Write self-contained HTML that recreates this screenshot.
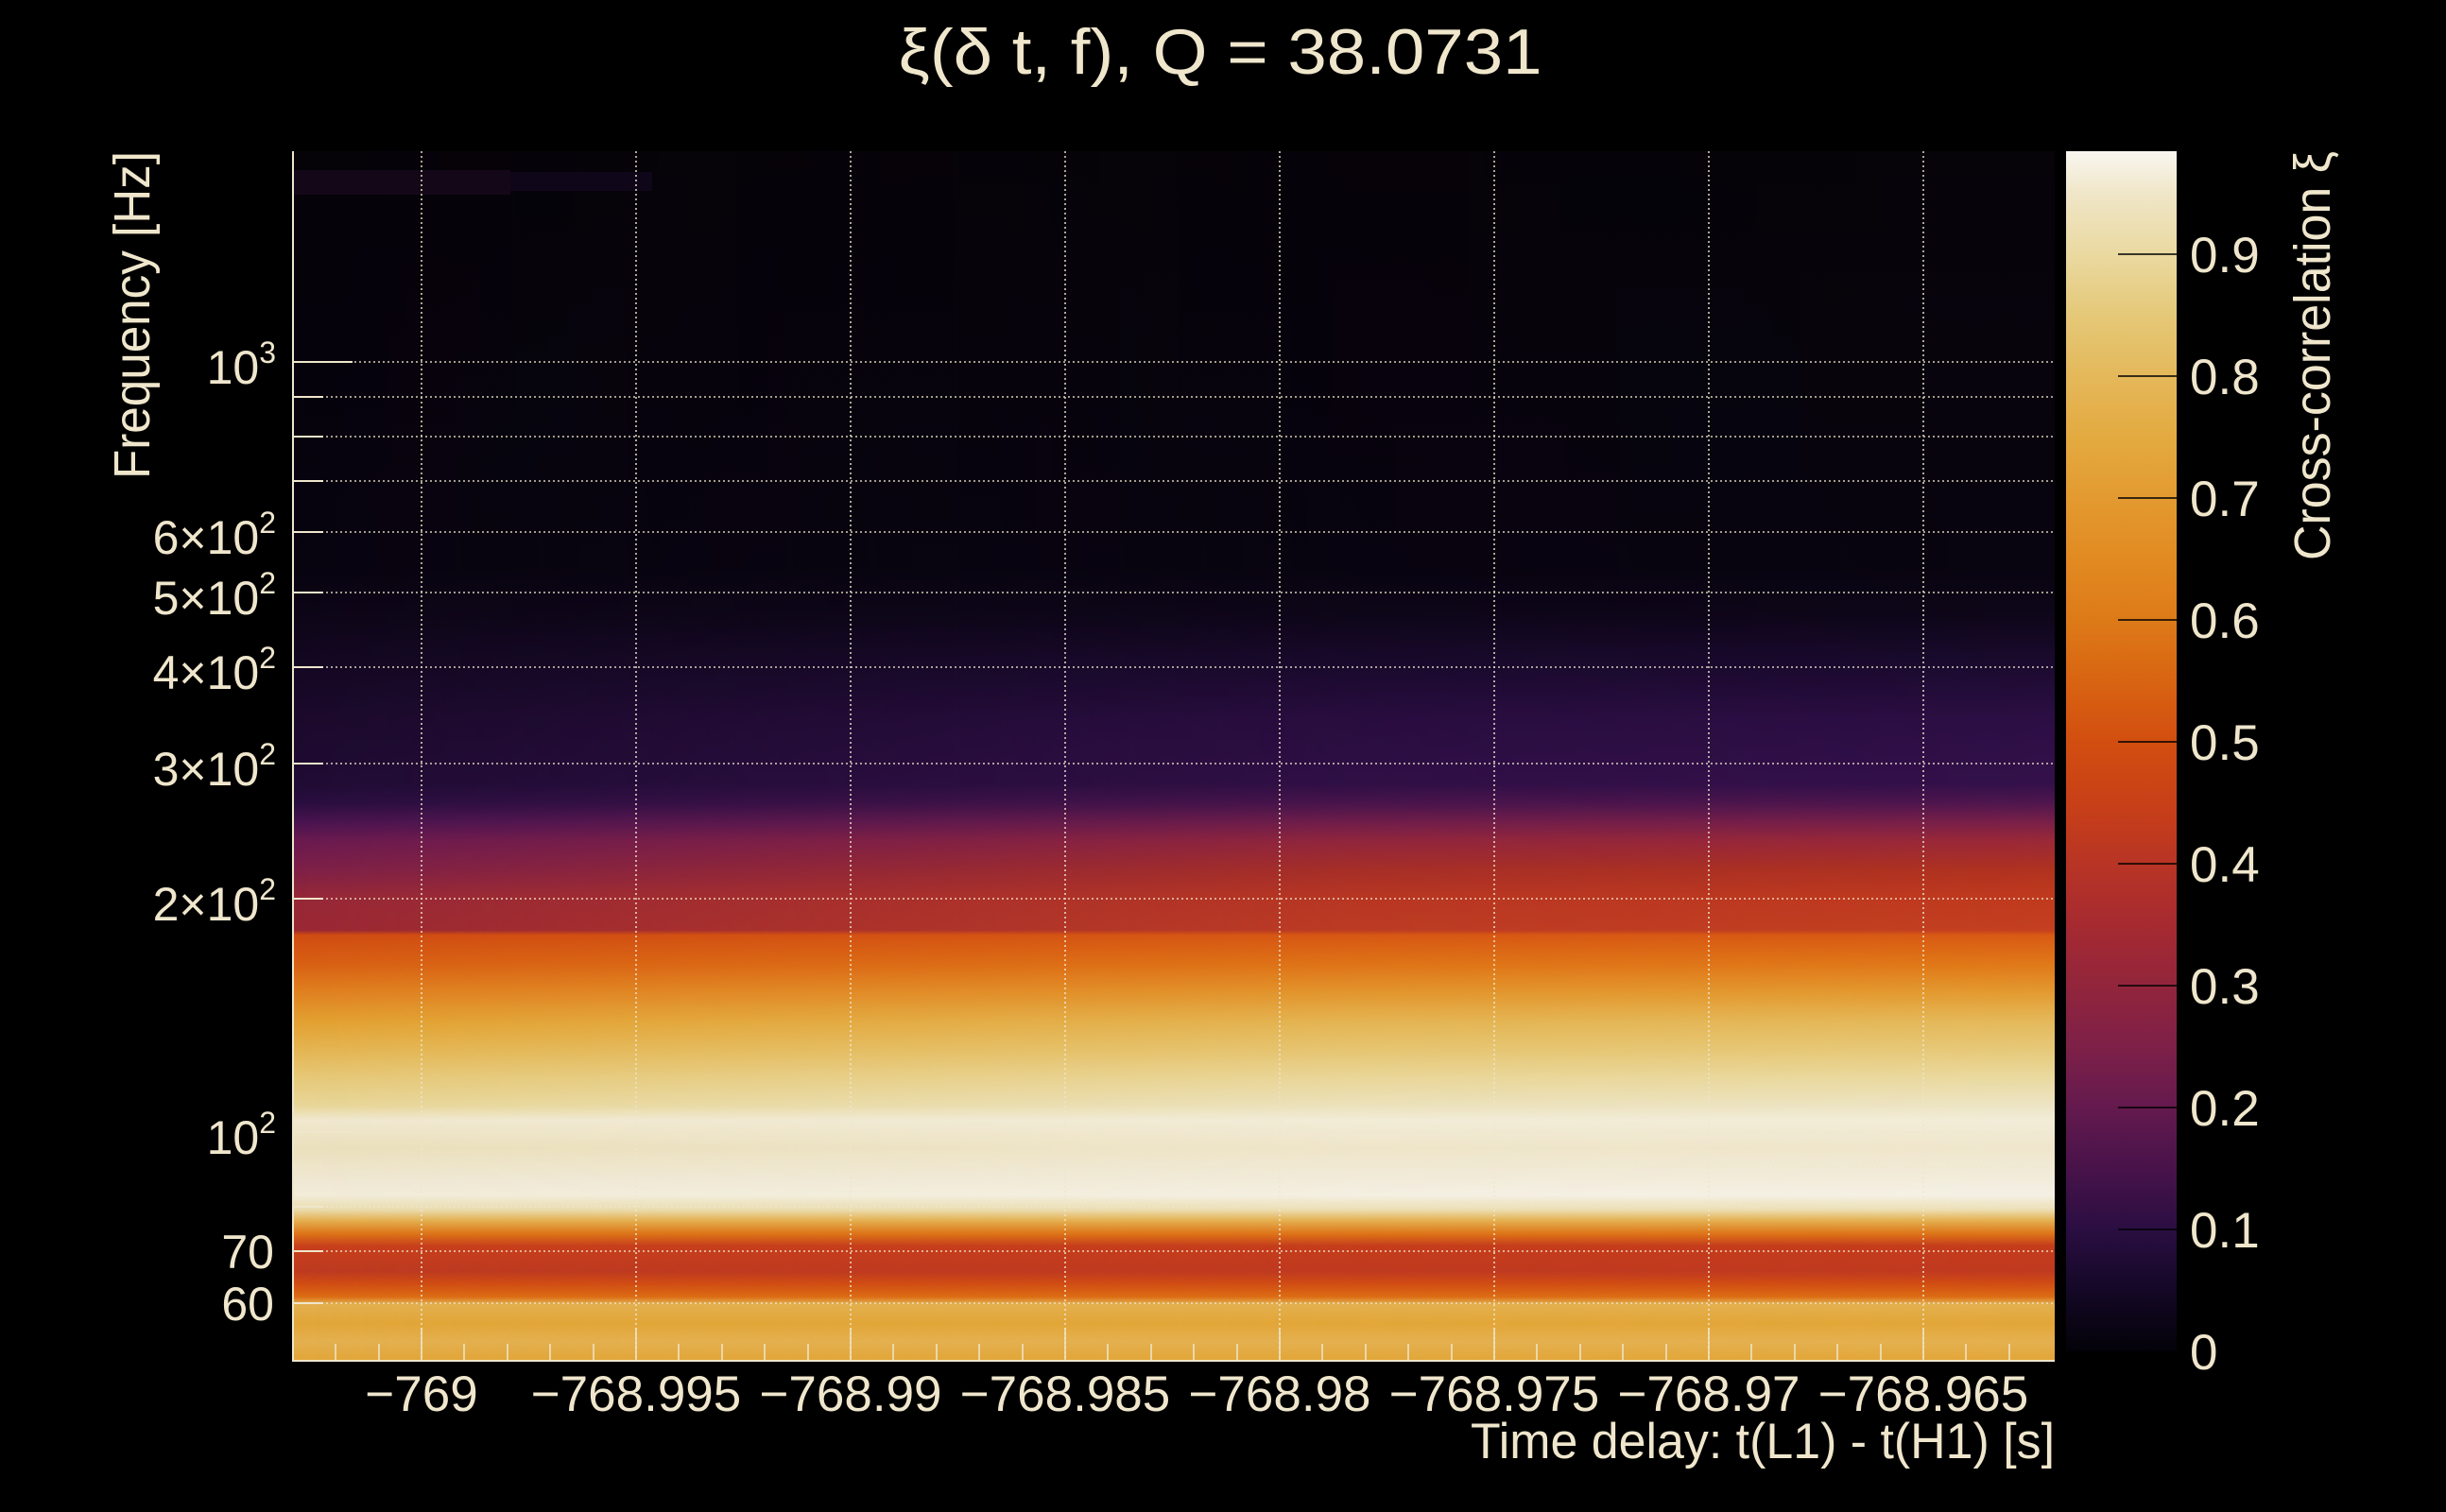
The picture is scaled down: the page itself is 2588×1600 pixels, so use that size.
<!DOCTYPE html>
<html><head><meta charset="utf-8"><style>
html,body{margin:0;padding:0;background:#000;}
svg{display:block;}
text{font-family:"Liberation Sans",sans-serif;fill:#efe6cc;}
</style></head><body>
<svg width="2588" height="1600" viewBox="0 0 2588 1600" xmlns="http://www.w3.org/2000/svg">
<defs>
<linearGradient id="gl" gradientUnits="userSpaceOnUse" x1="0" y1="160" x2="0" y2="1440">
<stop offset="0" stop-color="#060309"/>
<stop offset="0.344" stop-color="#080410"/>
<stop offset="0.383" stop-color="#0e0618"/>
<stop offset="0.422" stop-color="#140822"/>
<stop offset="0.469" stop-color="#1c0a2c"/>
<stop offset="0.523" stop-color="#200c34"/>
<stop offset="0.539" stop-color="#2a0e40"/>
<stop offset="0.555" stop-color="#4a1450"/>
<stop offset="0.570" stop-color="#6a1a50"/>
<stop offset="0.594" stop-color="#7e2048"/>
<stop offset="0.617" stop-color="#962838"/>
<stop offset="0.644" stop-color="#9a2834"/>
<stop offset="0.648" stop-color="#d04c12"/>
<stop offset="0.672" stop-color="#d86014"/>
<stop offset="0.695" stop-color="#e08020"/>
<stop offset="0.719" stop-color="#e3a030"/>
<stop offset="0.742" stop-color="#e4b450"/>
<stop offset="0.766" stop-color="#e6c878"/>
<stop offset="0.789" stop-color="#e8d698"/>
<stop offset="0.801" stop-color="#f0e8d0"/>
<stop offset="0.824" stop-color="#ebe0bc"/>
<stop offset="0.852" stop-color="#f0e8d4"/>
<stop offset="0.863" stop-color="#f2ecd8"/>
<stop offset="0.875" stop-color="#eadcae"/>
<stop offset="0.884" stop-color="#e4b050"/>
<stop offset="0.895" stop-color="#dd7418"/>
<stop offset="0.905" stop-color="#c8401c"/>
<stop offset="0.926" stop-color="#be3a20"/>
<stop offset="0.936" stop-color="#d04c14"/>
<stop offset="0.947" stop-color="#dc6c14"/>
<stop offset="0.953" stop-color="#e3b050"/>
<stop offset="0.969" stop-color="#e2a638"/>
<stop offset="0.984" stop-color="#e4b050"/>
<stop offset="1" stop-color="#e2a638"/>
</linearGradient>
<linearGradient id="gr" gradientUnits="userSpaceOnUse" x1="0" y1="160" x2="0" y2="1440">
<stop offset="0" stop-color="#060309"/>
<stop offset="0.344" stop-color="#080410"/>
<stop offset="0.383" stop-color="#0e0619"/>
<stop offset="0.422" stop-color="#1a0a2e"/>
<stop offset="0.469" stop-color="#2c0e44"/>
<stop offset="0.523" stop-color="#34104a"/>
<stop offset="0.539" stop-color="#50164e"/>
<stop offset="0.555" stop-color="#7a2048"/>
<stop offset="0.570" stop-color="#9a2838"/>
<stop offset="0.594" stop-color="#b0321f"/>
<stop offset="0.617" stop-color="#c03a1e"/>
<stop offset="0.644" stop-color="#c44020"/>
<stop offset="0.648" stop-color="#d85a14"/>
<stop offset="0.672" stop-color="#e07818"/>
<stop offset="0.695" stop-color="#e39a30"/>
<stop offset="0.719" stop-color="#e4b85a"/>
<stop offset="0.742" stop-color="#e6c878"/>
<stop offset="0.766" stop-color="#ead9a0"/>
<stop offset="0.789" stop-color="#ece4c4"/>
<stop offset="0.801" stop-color="#f2ecd8"/>
<stop offset="0.824" stop-color="#efe6cc"/>
<stop offset="0.852" stop-color="#f2ecdc"/>
<stop offset="0.863" stop-color="#f4f0e4"/>
<stop offset="0.875" stop-color="#ecdfb4"/>
<stop offset="0.884" stop-color="#e4b050"/>
<stop offset="0.895" stop-color="#dd7418"/>
<stop offset="0.905" stop-color="#c43c1c"/>
<stop offset="0.926" stop-color="#c03a20"/>
<stop offset="0.936" stop-color="#d04c14"/>
<stop offset="0.947" stop-color="#dc6c14"/>
<stop offset="0.953" stop-color="#e3b050"/>
<stop offset="0.969" stop-color="#e2a638"/>
<stop offset="0.984" stop-color="#e4b050"/>
<stop offset="1" stop-color="#e2a638"/>
</linearGradient>
<linearGradient id="mh" gradientUnits="userSpaceOnUse" x1="310" y1="0" x2="2174" y2="0">
<stop offset="0" stop-color="#000"/>
<stop offset="0.15" stop-color="#333"/>
<stop offset="0.6" stop-color="#ccc"/>
<stop offset="1" stop-color="#fff"/>
</linearGradient>
<mask id="m"><rect x="310" y="160" width="1864" height="1280" fill="url(#mh)"/></mask>
<linearGradient id="cb" x1="0" y1="1" x2="0" y2="0">
<stop offset="0" stop-color="#030208"/>
<stop offset="0.0508" stop-color="#140826"/>
<stop offset="0.1015" stop-color="#2a0e42"/>
<stop offset="0.1523" stop-color="#48134a"/>
<stop offset="0.203" stop-color="#641a4e"/>
<stop offset="0.2538" stop-color="#7e2048"/>
<stop offset="0.3046" stop-color="#92253c"/>
<stop offset="0.3553" stop-color="#a62a30"/>
<stop offset="0.406" stop-color="#b83425"/>
<stop offset="0.4569" stop-color="#c84018"/>
<stop offset="0.5076" stop-color="#d24e10"/>
<stop offset="0.5584" stop-color="#d86412"/>
<stop offset="0.609" stop-color="#dd7a18"/>
<stop offset="0.66" stop-color="#e28a22"/>
<stop offset="0.7107" stop-color="#e39a30"/>
<stop offset="0.7614" stop-color="#e3aa40"/>
<stop offset="0.812" stop-color="#e4b85a"/>
<stop offset="0.863" stop-color="#e5c878"/>
<stop offset="0.914" stop-color="#ead9a0"/>
<stop offset="0.9645" stop-color="#f0e6c8"/>
<stop offset="1" stop-color="#f8f6f0"/>
</linearGradient>
</defs>

<rect x="310" y="160" width="1864" height="1280" fill="url(#gl)"/>
<rect x="310" y="160" width="1864" height="1280" fill="url(#gr)" mask="url(#m)"/>
<rect x="310" y="180" width="230" height="26" fill="#140818"/>
<rect x="540" y="182" width="150" height="20" fill="#10061a"/>

<g stroke="#efe6cc" stroke-width="1.6" stroke-dasharray="2,3" opacity="0.9">
<line x1="446" y1="160" x2="446" y2="1440"/>
<line x1="673" y1="160" x2="673" y2="1440"/>
<line x1="900" y1="160" x2="900" y2="1440"/>
<line x1="1127" y1="160" x2="1127" y2="1440"/>
<line x1="1354" y1="160" x2="1354" y2="1440"/>
<line x1="1581" y1="160" x2="1581" y2="1440"/>
<line x1="1808" y1="160" x2="1808" y2="1440"/>
<line x1="2035" y1="160" x2="2035" y2="1440"/>
<line x1="310" y1="383" x2="2174" y2="383"/>
<line x1="310" y1="420" x2="2174" y2="420"/>
<line x1="310" y1="462" x2="2174" y2="462"/>
<line x1="310" y1="509" x2="2174" y2="509"/>
<line x1="310" y1="563" x2="2174" y2="563"/>
<line x1="310" y1="627" x2="2174" y2="627"/>
<line x1="310" y1="706" x2="2174" y2="706"/>
<line x1="310" y1="808" x2="2174" y2="808"/>
<line x1="310" y1="951" x2="2174" y2="951"/>
<line x1="310" y1="1198" x2="2174" y2="1198"/>
<line x1="310" y1="1235" x2="2174" y2="1235"/>
<line x1="310" y1="1277" x2="2174" y2="1277"/>
<line x1="310" y1="1324" x2="2174" y2="1324"/>
<line x1="310" y1="1379" x2="2174" y2="1379"/>
</g>

<g stroke="#efe6cc" stroke-width="2">
<line x1="310" y1="160" x2="310" y2="1441"/>
<line x1="309" y1="1440" x2="2174" y2="1440"/>
<line x1="310" y1="383" x2="373" y2="383"/>
<line x1="310" y1="1198" x2="373" y2="1198"/>
<line x1="310" y1="420" x2="342" y2="420"/>
<line x1="310" y1="462" x2="342" y2="462"/>
<line x1="310" y1="509" x2="342" y2="509"/>
<line x1="310" y1="563" x2="342" y2="563"/>
<line x1="310" y1="627" x2="342" y2="627"/>
<line x1="310" y1="706" x2="342" y2="706"/>
<line x1="310" y1="808" x2="342" y2="808"/>
<line x1="310" y1="951" x2="342" y2="951"/>
<line x1="310" y1="1235" x2="342" y2="1235"/>
<line x1="310" y1="1277" x2="342" y2="1277"/>
<line x1="310" y1="1324" x2="342" y2="1324"/>
<line x1="310" y1="1379" x2="342" y2="1379"/>
</g>
<g stroke="#efe6cc" stroke-width="1.5">
<line x1="446" y1="1440" x2="446" y2="1405"/><line x1="673" y1="1440" x2="673" y2="1405"/>
<line x1="900" y1="1440" x2="900" y2="1405"/><line x1="1127" y1="1440" x2="1127" y2="1405"/>
<line x1="1354" y1="1440" x2="1354" y2="1405"/><line x1="1581" y1="1440" x2="1581" y2="1405"/>
<line x1="1808" y1="1440" x2="1808" y2="1405"/><line x1="2035" y1="1440" x2="2035" y2="1405"/>
<line x1="355" y1="1440" x2="355" y2="1422"/><line x1="401" y1="1440" x2="401" y2="1422"/>
<line x1="491" y1="1440" x2="491" y2="1422"/><line x1="537" y1="1440" x2="537" y2="1422"/><line x1="582" y1="1440" x2="582" y2="1422"/><line x1="628" y1="1440" x2="628" y2="1422"/>
<line x1="718" y1="1440" x2="718" y2="1422"/><line x1="764" y1="1440" x2="764" y2="1422"/><line x1="809" y1="1440" x2="809" y2="1422"/><line x1="855" y1="1440" x2="855" y2="1422"/>
<line x1="945" y1="1440" x2="945" y2="1422"/><line x1="991" y1="1440" x2="991" y2="1422"/><line x1="1036" y1="1440" x2="1036" y2="1422"/><line x1="1082" y1="1440" x2="1082" y2="1422"/>
<line x1="1172" y1="1440" x2="1172" y2="1422"/><line x1="1218" y1="1440" x2="1218" y2="1422"/><line x1="1263" y1="1440" x2="1263" y2="1422"/><line x1="1309" y1="1440" x2="1309" y2="1422"/>
<line x1="1399" y1="1440" x2="1399" y2="1422"/><line x1="1445" y1="1440" x2="1445" y2="1422"/><line x1="1490" y1="1440" x2="1490" y2="1422"/><line x1="1536" y1="1440" x2="1536" y2="1422"/>
<line x1="1626" y1="1440" x2="1626" y2="1422"/><line x1="1672" y1="1440" x2="1672" y2="1422"/><line x1="1717" y1="1440" x2="1717" y2="1422"/><line x1="1763" y1="1440" x2="1763" y2="1422"/>
<line x1="1853" y1="1440" x2="1853" y2="1422"/><line x1="1899" y1="1440" x2="1899" y2="1422"/><line x1="1944" y1="1440" x2="1944" y2="1422"/><line x1="1990" y1="1440" x2="1990" y2="1422"/>
<line x1="2080" y1="1440" x2="2080" y2="1422"/><line x1="2126" y1="1440" x2="2126" y2="1422"/>
</g>

<rect x="2186" y="160" width="117" height="1270" fill="url(#cb)"/>
<g stroke="#000" stroke-width="1.5">
<line x1="2241" y1="1301" x2="2303" y2="1301"/><line x1="2241" y1="1172" x2="2303" y2="1172"/>
<line x1="2241" y1="1043" x2="2303" y2="1043"/><line x1="2241" y1="914" x2="2303" y2="914"/>
<line x1="2241" y1="785" x2="2303" y2="785"/><line x1="2241" y1="656" x2="2303" y2="656"/>
<line x1="2241" y1="527" x2="2303" y2="527"/><line x1="2241" y1="398" x2="2303" y2="398"/>
<line x1="2241" y1="269" x2="2303" y2="269"/>
</g>
<g font-size="53">
<text x="2317" y="1449">0</text>
<text x="2317" y="1320">0.1</text>
<text x="2317" y="1191">0.2</text>
<text x="2317" y="1062">0.3</text>
<text x="2317" y="933">0.4</text>
<text x="2317" y="804">0.5</text>
<text x="2317" y="675">0.6</text>
<text x="2317" y="546">0.7</text>
<text x="2317" y="417">0.8</text>
<text x="2317" y="288">0.9</text>
</g>
<text transform="translate(2465,593) rotate(-90)" font-size="54" textLength="433" lengthAdjust="spacingAndGlyphs">Cross-correlation ξ</text>

<text x="1291" y="78" font-size="68" text-anchor="middle" textLength="681" lengthAdjust="spacingAndGlyphs">ξ(δ t, f), Q = 38.0731</text>

<g font-size="53" text-anchor="middle">
<text x="446" y="1493">−769</text>
<text x="673" y="1493">−768.995</text>
<text x="900" y="1493">−768.99</text>
<text x="1127" y="1493">−768.985</text>
<text x="1354" y="1493">−768.98</text>
<text x="1581" y="1493">−768.975</text>
<text x="1808" y="1493">−768.97</text>
<text x="2035" y="1493">−768.965</text>
</g>
<text x="2174" y="1543" font-size="53" text-anchor="end" textLength="618" lengthAdjust="spacingAndGlyphs">Time delay: t(L1) - t(H1) [s]</text>

<g font-size="50" text-anchor="end">
<text x="292" y="406">10<tspan font-size="32" dy="-22">3</tspan></text>
<text x="292" y="586">6×10<tspan font-size="32" dy="-22">2</tspan></text>
<text x="292" y="650">5×10<tspan font-size="32" dy="-22">2</tspan></text>
<text x="292" y="729">4×10<tspan font-size="32" dy="-22">2</tspan></text>
<text x="292" y="831">3×10<tspan font-size="32" dy="-22">2</tspan></text>
<text x="292" y="974">2×10<tspan font-size="32" dy="-22">2</tspan></text>
<text x="292" y="1221">10<tspan font-size="32" dy="-22">2</tspan></text>
<text x="290" y="1342">70</text>
<text x="290" y="1397">60</text>
</g>
<text transform="translate(158,507) rotate(-90)" font-size="54" textLength="347" lengthAdjust="spacingAndGlyphs">Frequency [Hz]</text>
</svg>
</body></html>
